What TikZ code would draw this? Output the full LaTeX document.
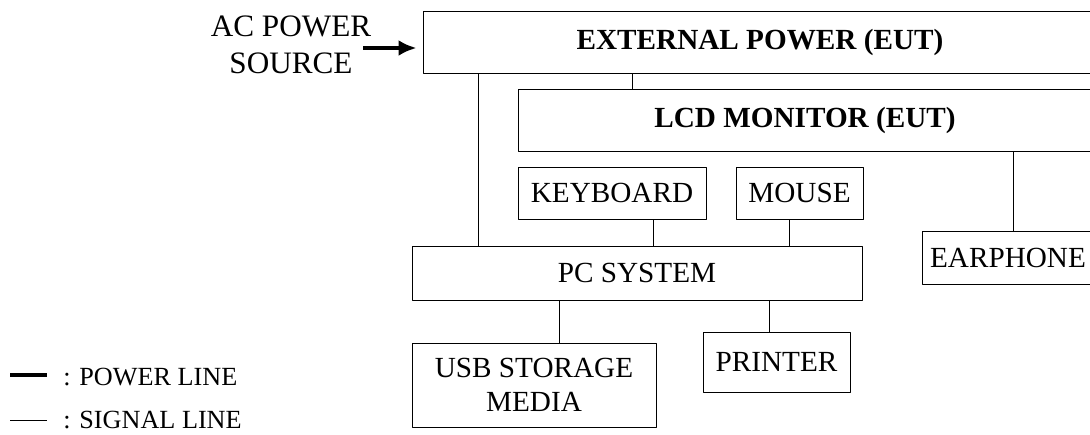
\documentclass[tikz,border=0pt]{standalone}
\usepackage{fontspec}
\setmainfont{Liberation Serif}
\usetikzlibrary{positioning,arrows.meta}

\begin{document}
\begin{tikzpicture}[x=.5pt,y=-.5pt,line join=bevel,
  blk/.style={draw,line width=.5pt,inner sep=0pt,align=center,font=\fontsize{14.6}{17}\selectfont},
  blkb/.style={blk,font=\bfseries\fontsize{14.6}{17}\selectfont},
  sig/.style={line width=.5pt},
  pwr/.style={line width=2.2pt}]
\useasboundingbox (0,0) rectangle (1090,434);
\clip (0,0) rectangle (1090,434);
\node [blkb,minimum width=337pt,minimum height=31pt] at (760,42) (ext) {EXTERNAL POWER (EUT)};
\node [blkb,minimum width=287pt,minimum height=31pt] at (805,120.5) (lcd) {LCD MONITOR (EUT)};
\node [blk,minimum width=94pt,minimum height=26pt] at (612,193) (kbd) {KEYBOARD};
\node [blk,minimum width=63.5pt,minimum height=26pt,right=14.5pt of kbd] (mouse) {MOUSE};
\node [blk,minimum width=225pt,minimum height=27pt] at (637,273) (pc) {PC SYSTEM};
\node [blk,minimum width=122pt,minimum height=42pt] at (534,385) (usb) {USB STORAGE\\MEDIA};
\node [blk,minimum width=73.5pt,minimum height=30pt] at (776.5,362) (prn) {PRINTER};
\node [blk,minimum width=86pt,minimum height=26.5pt] at (1008,257.5) (ear) {EARPHONE};
\node [align=center,inner sep=0pt,font=\fontsize{15.6}{18.5}\selectfont] at (291,45) (ac) {AC POWER\\SOURCE};
\coordinate (acin) at (363,48);

% power feed
\draw [pwr,-{Latex[length=9pt,width=8pt]},shorten >=3pt] (acin) -- (acin -| ext.west);

% signal cables
\draw [sig] ([xshift=28pt]ext.south west) -- ([xshift=28pt]ext.south west |- pc.north);
\draw [sig] ([xshift=105pt]ext.south west) -- ([xshift=105pt]ext.south west |- lcd.north);
\draw [sig] ([xshift=20.5pt]kbd.south) -- ([xshift=20.5pt]kbd.south |- pc.north);
\draw [sig] ([xshift=-5.25pt]mouse.south) -- ([xshift=-5.25pt]mouse.south |- pc.north);
\draw [sig] ([xshift=12.5pt]usb.north) -- ([xshift=12.5pt]usb.north |- pc.south);
\draw [sig] ([xshift=-3.75pt]prn.north) -- ([xshift=-3.75pt]prn.north |- pc.south);
\draw [sig] ([xshift=2.5pt]ear.north) -- ([xshift=2.5pt]ear.north |- lcd.south);

% legend
\node [anchor=west,inner sep=0pt,font=\fontsize{13.1}{15}\selectfont] at (63,377) (legp) {: POWER LINE};
\node [anchor=west,inner sep=0pt,font=\fontsize{13.1}{15}\selectfont] at (63,420) (legs) {: SIGNAL LINE};
\draw [pwr] ([xshift=-26.5pt,yshift=1pt]legp.west) -- ([xshift=-8pt,yshift=1pt]legp.west);
\draw [sig] ([xshift=-26.5pt]legs.west) -- ([xshift=-8pt]legs.west);
\end{tikzpicture}
\end{document}
